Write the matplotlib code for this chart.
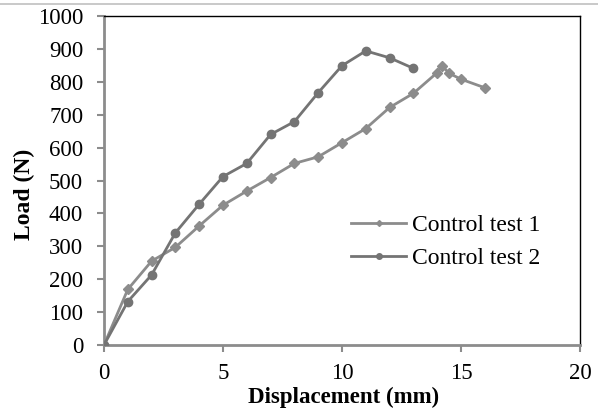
import matplotlib
matplotlib.use("Agg")
import matplotlib.pyplot as plt
from matplotlib.lines import Line2D

# Control test 1 (diamonds)
disp_1 = [0, 1, 2, 3, 4, 5, 6, 7, 8, 9, 10, 11, 12, 13, 14, 14.2, 14.5, 15, 16]
load_1 = [0, 169, 255, 297, 362, 425, 468, 509, 552, 572, 615, 658, 722, 765,
          828, 849, 826, 808, 782]

# Control test 2 (circles)
disp_2 = [0, 1, 2, 3, 4, 5, 6, 7, 8, 9, 10, 11, 12, 13]
load_2 = [0, 132, 213, 341, 428, 512, 552, 640, 679, 767, 849, 894, 873, 841]

labels = ["Control test 1", "Control test 2"]
xticks = [0, 5, 10, 15, 20]
yticks = list(range(0, 1001, 100))

plt.rcParams["font.family"] = ["Liberation Serif", "DejaVu Serif"]

fig = plt.figure(figsize=(5.98, 4.11), dpi=100)
ax = fig.add_axes([0.1739, 0.1606, 0.796, 0.8004])

ax.plot(disp_1, load_1, color="#8c8c8c", lw=2, marker="D", ms=5,
        label=labels[0], zorder=3)
ax.plot(disp_2, load_2, color="#747474", lw=2, marker="o", ms=6,
        label=labels[1], zorder=3)

ax.set_xlim(0, 20)
ax.set_ylim(0, 1000)
ax.set_xticks(xticks)
ax.set_yticks(yticks)
ax.tick_params(labelsize=16.5, direction="out", length=5, width=1.5,
               color="#8c8c8c", pad=10)
ax.tick_params(axis="x", pad=8)

for s in ("left", "bottom"):
    ax.spines[s].set_color("#8c8c8c")
    ax.spines[s].set_linewidth(2)
for s in ("top", "right"):
    ax.spines[s].set_color("black")
    ax.spines[s].set_linewidth(1)
ax.tick_params(axis="both", which="both", top=False, right=False)

ax.set_xlabel("Displacement (mm)", fontsize=16.5, fontweight="bold")
ax.set_ylabel("Load (N)", fontsize=17, fontweight="bold")
ax.xaxis.set_label_coords(0.504, -0.128)
ax.yaxis.set_label_coords(-0.145, 0.459)

handles = [
    Line2D([], [], color="#8c8c8c", lw=2, marker="D", ms=3),
    Line2D([], [], color="#747474", lw=2, marker="o", ms=4),
]
ax.legend(handles, labels, loc="center left", bbox_to_anchor=(0.5, 0.313),
          frameon=False, fontsize=17, handlelength=2.3, handletextpad=0.25,
          labelspacing=0.5, borderaxespad=0)

fig.add_artist(Line2D([0, 1], [0.99, 0.99], color="#c0c0c0", lw=1.2,
                      transform=fig.transFigure))

fig.savefig("out.png", dpi=100, facecolor="white")
